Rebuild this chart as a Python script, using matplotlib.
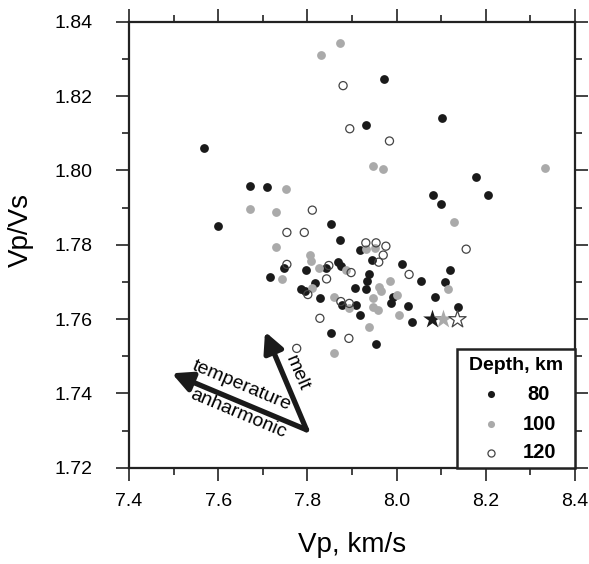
import matplotlib
matplotlib.use("Agg")
import matplotlib.pyplot as plt
from matplotlib.patches import Rectangle
import numpy as np

plt.rcParams['font.family'] = ['Liberation Sans', 'DejaVu Sans']

# ---- data: (Vp, Vp/Vs) by depth ----
vp_80 = [7.931, 7.569, 7.671, 7.709, 7.972, 8.102, 8.177, 8.082, 8.206, 8.099,
         7.854, 7.873, 7.917, 7.945, 8.011, 7.868, 7.875, 7.842, 8.055, 8.120,
         8.109, 7.939, 7.934, 7.907, 7.931, 7.991, 7.987, 7.828, 7.908, 7.878,
         8.025, 8.085, 8.138, 7.918, 8.034, 7.854, 7.954, 7.600, 7.748, 7.797,
         7.716, 7.817, 7.785, 7.795]
vpvs_80 = [1.8123, 1.8059, 1.7958, 1.7955, 1.8247, 1.8142, 1.7982, 1.7934, 1.7933, 1.7910,
           1.7856, 1.7812, 1.7786, 1.7758, 1.7747, 1.7753, 1.7743, 1.7737, 1.7703, 1.7732,
           1.7700, 1.7721, 1.7703, 1.7683, 1.7680, 1.7660, 1.7644, 1.7657, 1.7638, 1.7638,
           1.7635, 1.7660, 1.7632, 1.7611, 1.7593, 1.7563, 1.7532, 1.7849, 1.7738, 1.7732,
           1.7712, 1.7698, 1.7681, 1.7676]

vp_100 = [7.873, 7.830, 7.946, 7.752, 7.969, 8.333, 8.129, 7.931, 7.952, 7.886,
          8.116, 7.985, 7.961, 7.964, 8.002, 7.946, 7.860, 7.894, 7.946, 7.959,
          8.006, 7.939, 7.671, 7.730, 7.729, 7.806, 7.808, 7.827, 7.743, 7.810,
          7.860]
vpvs_100 = [1.8342, 1.8311, 1.8013, 1.7951, 1.8005, 1.8006, 1.7860, 1.7788, 1.7792, 1.7732,
            1.7680, 1.7703, 1.7685, 1.7676, 1.7665, 1.7656, 1.7659, 1.7631, 1.7632, 1.7623,
            1.7611, 1.7578, 1.7895, 1.7887, 1.7795, 1.7772, 1.7757, 1.7737, 1.7708, 1.7683,
            1.7508]

vp_120 = [7.880, 7.895, 7.984, 7.931, 7.954, 7.976, 8.156, 7.970, 7.960, 7.848,
          7.898, 7.843, 8.028, 7.875, 7.894, 7.828, 7.893, 7.811, 7.754, 7.793,
          7.754, 7.801, 7.776]
vpvs_120 = [1.8228, 1.8112, 1.8079, 1.7805, 1.7805, 1.7796, 1.7788, 1.7772, 1.7753, 1.7744,
            1.7725, 1.7708, 1.7720, 1.7647, 1.7642, 1.7602, 1.7548, 1.7893, 1.7833, 1.7833,
            1.7747, 1.7666, 1.7521]

# reference (stars)
star_vp = [8.079, 8.105, 8.135]
star_vpvs = [1.760, 1.760, 1.760]

depth_labels = ["80", "100", "120"]

# arrow annotation anchors (data coords)
arrow_origin = (7.798, 1.7302)
arrow_temp_tip = (7.496, 1.7454)
arrow_melt_tip = (7.705, 1.7566)

BLACK = "#1a1a1a"
GRAY = "#aaaaaa"
EDGE = "#444444"

fig = plt.figure(figsize=(5.89, 5.64), dpi=100)
ax = fig.add_axes([129/589, 1-467.7/564, 446/589, 446/564])

ms = 40
ax.scatter(vp_80, vpvs_80, s=ms, color=BLACK, linewidths=0, zorder=3)
ax.scatter(vp_100, vpvs_100, s=ms, color=GRAY, linewidths=0, zorder=3)
ax.scatter(vp_120, vpvs_120, s=ms*0.85, facecolors='none', edgecolors=EDGE, linewidths=0.9, zorder=3)

ax.scatter(star_vp[0], star_vpvs[0], marker='*', s=200, color=BLACK, linewidths=0, zorder=4)
ax.scatter(star_vp[1], star_vpvs[1], marker='*', s=200, color=GRAY, linewidths=0, zorder=4)
ax.scatter(star_vp[2], star_vpvs[2], marker='*', s=170, facecolors='white', edgecolors=EDGE, linewidths=0.9, zorder=4)

ax.set_xlim(7.4, 8.4)
ax.set_ylim(1.72, 1.84)
ax.set_xticks(np.round(np.arange(7.4, 8.41, 0.2), 2))
ax.set_xticks(np.round(np.arange(7.4, 8.41, 0.1), 2), minor=True)
ax.set_yticks(np.round(np.arange(1.72, 1.841, 0.02), 2))
ax.set_yticks(np.round(np.arange(1.72, 1.841, 0.01), 2), minor=True)
ax.xaxis.set_major_formatter(matplotlib.ticker.FormatStrFormatter('%.1f'))
ax.yaxis.set_major_formatter(matplotlib.ticker.FormatStrFormatter('%.2f'))

ax.tick_params(which='both', direction='out', top=True, right=True, width=1.2, color='#222222')
ax.tick_params(which='major', length=9.4, labelsize=14)
ax.tick_params(axis='y', which='major', pad=17)
ax.tick_params(axis='x', which='major', pad=9)
ax.tick_params(which='minor', length=5)
for s in ax.spines.values():
    s.set_linewidth(1.6)
    s.set_color('#222222')

ax.set_xlabel("Vp, km/s", fontsize=20, labelpad=16)
ax.set_ylabel("Vp/Vs", fontsize=20)
ax.yaxis.set_label_coords((34 - 129) / 446, (467.7 - 230) / 446)


def px2ax(px, py):
    return ((px - 129) / 446, (467.7 - py) / 446)


# arrows
for tip in (arrow_temp_tip, arrow_melt_tip):
    ax.annotate('', xy=tip, xytext=arrow_origin,
                arrowprops=dict(arrowstyle='-|>,head_length=0.6,head_width=0.3',
                                lw=3.8, color=BLACK, mutation_scale=20,
                                shrinkA=0, shrinkB=0), zorder=5)

tx, ty = px2ax(242, 386)
ax.text(tx, ty, "temperature", transform=ax.transAxes, fontsize=14,
        rotation=-22.8, rotation_mode='anchor', ha='center', va='center', zorder=6)
tx, ty = px2ax(238, 414)
ax.text(tx, ty, "anharmonic", transform=ax.transAxes, fontsize=14,
        rotation=-22.8, rotation_mode='anchor', ha='center', va='center', zorder=6)
tx, ty = px2ax(297, 373)
ax.text(tx, ty, "melt", transform=ax.transAxes, fontsize=14,
        rotation=-67, rotation_mode='anchor', ha='center', va='center', zorder=6)

# legend box
x0, y0 = px2ax(456.7, 467.7)
x1, y1 = px2ax(575, 349)
ax.add_patch(Rectangle((x0, y0), x1 - x0, y1 - y0, transform=ax.transAxes,
                       facecolor='white', edgecolor='#222222', lw=1.8, zorder=7, clip_on=False))
tx, ty = px2ax(516, 366)
ax.text(tx, ty, "Depth, km", transform=ax.transAxes, fontsize=14, fontweight='bold',
        ha='center', va='center', zorder=8)
rows_y = [394, 424, 453]
styles = [dict(color=BLACK, linewidths=0), dict(color=GRAY, linewidths=0),
          dict(facecolors='white', edgecolors=EDGE, linewidths=0.9)]
for lab, py, st in zip(depth_labels, rows_y, styles):
    mx, my = px2ax(491, py)
    ax.scatter([mx], [my], s=26, transform=ax.transAxes, zorder=8, clip_on=False, **st)
    lx, ly = px2ax(539, py)
    ax.text(lx, ly, lab, transform=ax.transAxes, fontsize=14.5, fontweight='bold',
            ha='center', va='center', zorder=8)

fig.savefig("out.png", dpi=100)
